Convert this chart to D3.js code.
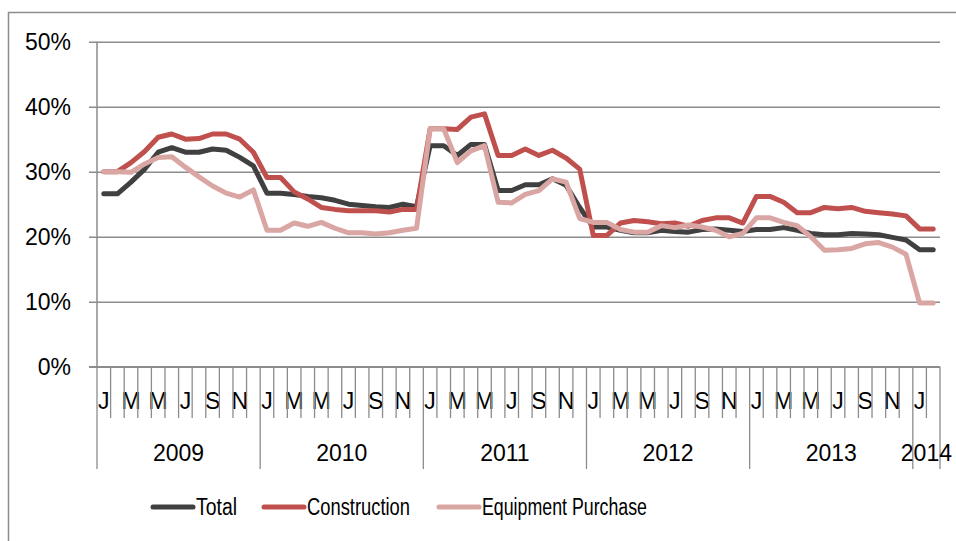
<!DOCTYPE html>
<html>
<head>
<meta charset="utf-8">
<script src="https://cdn.jsdelivr.net/npm/d3@7"></script>
<style>
  html, body { margin: 0; padding: 0; background: #fff; }
  svg { display: block; }
  .tick-label { font-family: "Liberation Sans", Arial, sans-serif; font-size: 23px; fill: #000; }
  .legend-label { font-family: "Liberation Sans", Arial, sans-serif; font-size: 23px; fill: #000; }
</style>
</head>
<body>
<script>
// Monthly shares, Jan 2009 – Feb 2014 (percent)
const years = ["2009", "2010", "2011", "2012", "2013", "2014"];
const monthsInYear = [12, 12, 12, 12, 12, 2];
const monthLetters = ["J", "F", "M", "A", "M", "J", "J", "A", "S", "O", "N", "D"];
const yTicks = [0, 10, 20, 30, 40, 50];

const total = [
  26.6, 26.6, 28.4, 30.4, 33.0, 33.7, 33.0, 33.0, 33.5, 33.3, 32.2, 30.9,
  26.7, 26.7, 26.5, 26.2, 26.0, 25.6, 25.0, 24.8, 24.6, 24.5, 25.0, 24.6,
  34.0, 34.0, 32.5, 34.2, 34.2, 27.1, 27.1, 28.0, 28.0, 28.9, 27.9, 24.5,
  21.5, 21.5, 21.0, 20.6, 20.6, 21.0, 20.8, 20.7, 21.1, 21.2, 21.0, 20.8,
  21.1, 21.1, 21.4, 21.0, 20.5, 20.3, 20.3, 20.5, 20.4, 20.3, 19.9, 19.5,
  18.0, 18.0
];
const construction = [
  30.0, 30.0, 31.4, 33.1, 35.3, 35.8, 35.0, 35.1, 35.8, 35.8, 35.0, 33.0,
  29.1, 29.1, 26.9, 25.8, 24.5, 24.2, 24.0, 24.0, 24.0, 23.8, 24.2, 24.2,
  36.6, 36.6, 36.5, 38.4, 38.9, 32.5, 32.5, 33.5, 32.5, 33.3, 32.1, 30.4,
  20.2, 20.2, 22.1, 22.5, 22.3, 22.0, 22.1, 21.6, 22.5, 22.9, 22.9, 22.1,
  26.2, 26.2, 25.3, 23.7, 23.7, 24.5, 24.3, 24.5, 23.9, 23.7, 23.5, 23.2,
  21.2, 21.2
];
const equipment = [
  30.0, 30.0, 29.9, 31.2, 32.2, 32.3, 30.7, 29.2, 27.8, 26.7, 26.1, 27.2,
  21.0, 21.0, 22.1, 21.6, 22.2, 21.3, 20.6, 20.6, 20.4, 20.6, 21.0, 21.3,
  36.6, 36.6, 31.4, 33.2, 34.0, 25.3, 25.2, 26.5, 27.1, 28.9, 28.4, 22.8,
  22.2, 22.2, 21.1, 20.7, 20.7, 21.7, 21.4, 21.8, 21.5, 21.0, 20.0, 20.5,
  22.9, 22.9, 22.2, 21.7, 20.0, 17.9, 18.0, 18.2, 18.9, 19.1, 18.4, 17.3,
  9.8, 9.8
];

const seriesNames = ["Total", "Construction", "Equipment Purchase"];
const seriesColors = ["#404040", "#C0504D", "#D9A6A4"];
const seriesValues = [total, construction, equipment];

const W = 956, H = 541;
const plotLeft = 97, plotRight = 940, plotTop = 41.7, plotBottom = 366.7;
const gridColor = "#8c8c8c";

// flat list of months with their year index and month-of-year
const months = [];
years.forEach((yr, yi) => {
  for (let m = 0; m < monthsInYear[yi]; m++) months.push({ yi, m, idx: months.length });
});

const svg = d3.select("body").append("svg").attr("width", W).attr("height", H);

// outer chart frame
svg.append("rect")
  .attr("x", 8.5).attr("y", 12.5)
  .attr("width", W + 20).attr("height", H + 20)
  .attr("fill", "none").attr("stroke", gridColor).attr("stroke-width", 1.5);

const x = d3.scaleBand().domain(months.map(d => d.idx)).range([plotLeft, plotRight]).padding(0);
const y = d3.scaleLinear().domain([0, 50]).range([plotBottom, plotTop]);

// horizontal gridlines with left tick stubs and percent labels
const yAxis = d3.axisLeft(y)
  .tickValues(yTicks)
  .tickSize(plotRight - plotLeft + 8)
  .tickPadding(18)
  .tickFormat(d => d + "%");
const gy = svg.append("g").attr("transform", `translate(${plotRight},0)`).call(yAxis);
gy.attr("font-family", null).attr("font-size", null);
gy.select(".domain").remove();
gy.selectAll(".tick line").attr("stroke", gridColor).attr("stroke-width", 1.5);
gy.selectAll(".tick text").attr("class", "tick-label");

// vertical axis line
svg.append("line")
  .attr("x1", plotLeft).attr("x2", plotLeft).attr("y1", plotTop).attr("y2", plotBottom)
  .attr("stroke", gridColor).attr("stroke-width", 1.5);

// month labels (every other month) under the axis
const xAxis = d3.axisBottom(x)
  .tickSize(0)
  .tickPadding(0)
  .tickFormat(i => (months[i].m % 2 === 0 ? monthLetters[months[i].m] : ""));
const gx = svg.append("g").attr("transform", `translate(0,${plotBottom})`).call(xAxis);
gx.attr("font-family", null).attr("font-size", null);
gx.select(".domain").remove();
gx.selectAll(".tick text")
  .attr("class", "tick-label")
  .attr("y", 34).attr("dy", "0.35em");

// category boundary ticks; year boundaries run longer
const boundaries = months.map(d => ({ pos: x(d.idx), yearStart: d.m === 0 }));
boundaries.push({ pos: x(months.length - 1) + x.bandwidth(), yearStart: true });
svg.append("g").selectAll("line").data(boundaries).join("line")
  .attr("x1", d => d.pos).attr("x2", d => d.pos)
  .attr("y1", plotBottom).attr("y2", d => d.yearStart ? 469 : 418)
  .attr("stroke", gridColor).attr("stroke-width", 1.3);

// horizontal axis baseline
svg.append("line")
  .attr("x1", plotLeft - 8).attr("x2", plotRight).attr("y1", plotBottom).attr("y2", plotBottom)
  .attr("stroke", gridColor).attr("stroke-width", 1.5);

// year labels centred on each year's span
let start = 0;
const yearSpans = years.map((yr, yi) => {
  const s = start; start += monthsInYear[yi];
  return { yr, x0: x(s), x1: x(start - 1) + x.bandwidth() };
});
svg.append("g").selectAll("text").data(yearSpans).join("text")
  .attr("class", "tick-label")
  .attr("x", d => (d.x0 + d.x1) / 2).attr("y", 453).attr("dy", "0.35em")
  .attr("text-anchor", "middle")
  .text(d => d.yr);

// series lines
const line = d3.line()
  .x((d, i) => x(i) + x.bandwidth() / 2)
  .y(d => y(d));
svg.append("g").selectAll("path").data(seriesValues).join("path")
  .attr("d", d => line(d))
  .attr("fill", "none")
  .attr("stroke", (d, i) => seriesColors[i])
  .attr("stroke-width", 5)
  .attr("stroke-linejoin", "round")
  .attr("stroke-linecap", "round");

// legend: swatch line plus a horizontally condensed label
const legendX = [153, 264, 439];
const legendTextWidth = [41, 103, 165];
const legend = svg.append("g").selectAll("g").data(seriesNames).join("g")
  .attr("transform", (d, i) => `translate(${legendX[i]},507)`);
legend.append("line")
  .attr("x1", 0).attr("x2", 40).attr("y1", 0).attr("y2", 0)
  .attr("stroke", (d, i) => seriesColors[i]).attr("stroke-width", 5)
  .attr("stroke-linecap", "round");
legend.append("text")
  .attr("class", "legend-label")
  .attr("x", 43).attr("y", 0).attr("dy", "0.35em")
  .attr("textLength", (d, i) => legendTextWidth[i])
  .attr("lengthAdjust", "spacingAndGlyphs")
  .text(d => d);
</script>
</body>
</html>
